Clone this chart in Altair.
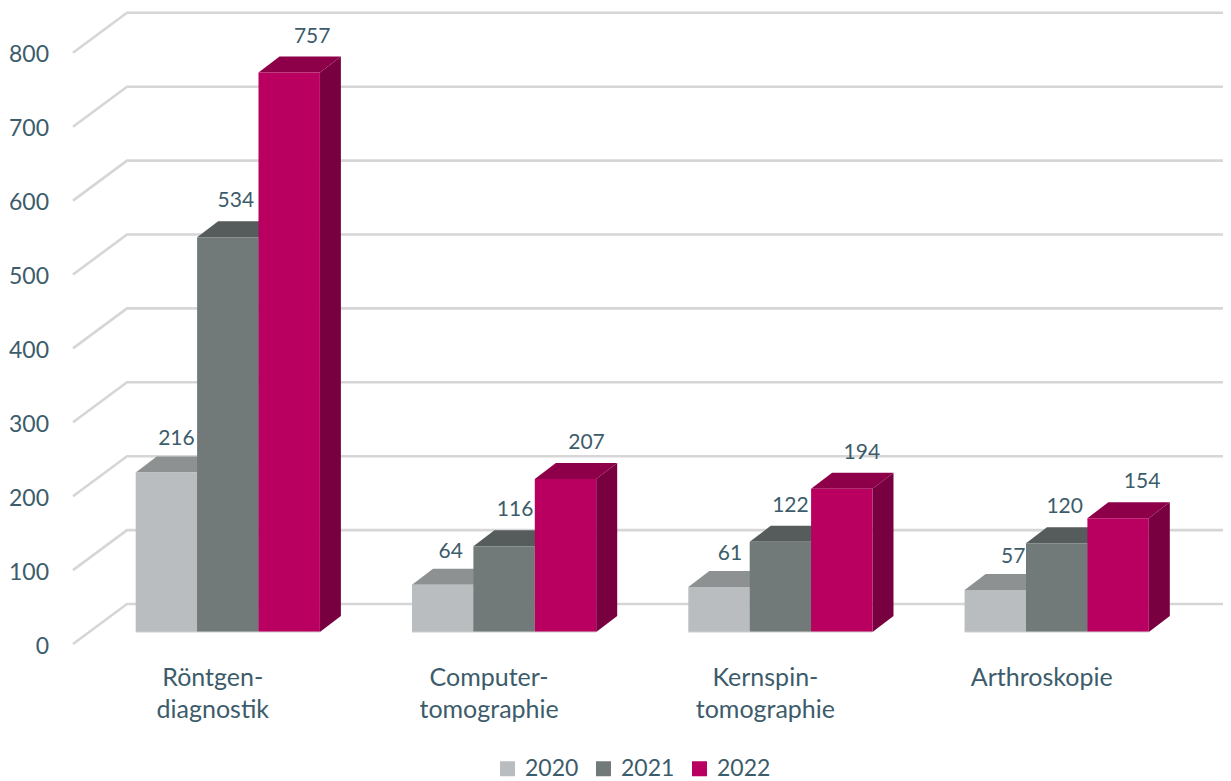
import altair as alt
import pandas as pd

categories = ["Röntgen-\ndiagnostik", "Computer-\ntomographie", "Kernspin-\ntomographie", "Arthroskopie"]
years = ["2020", "2021", "2022"]
v2020 = [216, 64, 61, 57]
v2021 = [534, 116, 122, 120]
v2022 = [757, 207, 194, 154]
ticks = [0, 100, 200, 300, 400, 500, 600, 700, 800]

front = {"2020": "#B9BDBF", "2021": "#727A79", "2022": "#B90060"}
top = {"2020": "#8E9192", "2021": "#565C5B", "2022": "#8D0049"}
side = {"2020": "#7F8384", "2021": "#4C5251", "2022": "#780040"}
TEXT = "#3D5C6B"
FONT = "Lato"

# Layout in data units (x: one bar width, y: the value axis)
W, H = 1215, 773
BAR_PX, UNIT_PX = 61.4, 0.739
STEP = 4.5
DX, DY = 21 / BAR_PX, 16 / UNIT_PX
x_scale = alt.Scale(domain=[(8 - 135.7) / BAR_PX, (1223 - 135.7) / BAR_PX], nice=False, zero=False)
y_scale = alt.Scale(domain=[(632 - 781) / UNIT_PX, (632 - 8) / UNIT_PX], nice=False, zero=False)
X = lambda f: alt.X(f, type="quantitative", scale=x_scale, axis=None)
Y = lambda f: alt.Y(f, type="quantitative", scale=y_scale, axis=None)
color = alt.Color(
    "year:N",
    scale=alt.Scale(domain=years, range=[front[y] for y in years]),
    legend=alt.Legend(
        title=None, orient="none", legendX=488, legendY=749, direction="horizontal",
        symbolType="square", symbolSize=225, symbolStrokeWidth=0, symbolOpacity=1,
        labelFont=FONT, labelFontSize=23, labelColor=TEXT, labelOffset=6,
        columnPadding=13, columns=3,
    ),
)

values = dict(zip(years, [v2020, v2021, v2022]))
layers = []

# Gridlines: floor-front edge -> back wall -> right edge
gx = [(73 - 135.7) / BAR_PX, (127 - 135.7) / BAR_PX, (1223 - 135.7) / BAR_PX]
gy = [(632 - 644) / UNIT_PX, (632 - 604) / UNIT_PX, (632 - 604) / UNIT_PX]
grid = pd.DataFrame([{"t": t, "o": i, "x": gx[i], "y": t + gy[i]} for t in ticks for i in range(3)])
layers.append(
    alt.Chart(grid).mark_line(color="#D6D6D6", strokeWidth=2.6, strokeJoin="miter")
    .encode(x=X("x"), y=Y("y"), detail="t:N", order="o:Q")
)

for si, yr in enumerate(years):
    vals = values[yr]
    base = [(c, STEP * c + si, vals[c]) for c in range(len(categories))]
    side_df = pd.DataFrame([
        r for c, x, v in base for r in (
            {"id": c, "x": x + 1, "y0": 0, "y1": v},
            {"id": c, "x": x + 1 + DX, "y0": DY, "y1": v + DY},
        )
    ])
    top_df = pd.DataFrame([
        r for c, x, v in base for r in (
            {"id": c, "y": v, "x0": x, "x1": x + 1},
            {"id": c, "y": v + DY, "x0": x + DX, "x1": x + 1 + DX},
        )
    ])
    front_df = pd.DataFrame([
        {"year": yr, "x0": x, "x1": x + 1, "y0": 0, "y1": v} for c, x, v in base
    ])
    layers.append(
        alt.Chart(side_df).mark_area(orient="vertical", color=side[yr])
        .encode(x=X("x"), y=Y("y0"), y2="y1:Q", detail="id:N")
    )
    layers.append(
        alt.Chart(top_df).mark_area(orient="horizontal", color=top[yr])
        .encode(y=Y("y"), x=X("x0"), x2="x1:Q", detail="id:N")
    )
    layers.append(
        alt.Chart(front_df).mark_rect()
        .encode(x=X("x0"), x2="x1:Q", y=Y("y0"), y2="y1:Q", color=color)
    )

# Base edge of each bar group
base_df = pd.DataFrame([
    {"id": c, "x": STEP * c + k, "y": 0} for c in range(len(categories)) for k in (0, 3)
])
layers.append(
    alt.Chart(base_df).mark_line(color="#CFCFCF", strokeWidth=1.2)
    .encode(x=X("x"), y=Y("y"), detail="id:N")
)

# Value labels
label_shift = {"2020": [10, 8, 11, 18], "2021": [8, 11, 10, 8], "2022": [23, 21, 20, 24]}
label_rise = {"2020": 17, "2021": 20, "2022": 20}
lab = pd.DataFrame([
    {"x": STEP * c + si + 0.5 + label_shift[yr][c] / BAR_PX,
     "y": values[yr][c] + DY + label_rise[yr] / UNIT_PX,
     "t": str(values[yr][c])}
    for si, yr in enumerate(years) for c in range(len(categories))
])
layers.append(
    alt.Chart(lab).mark_text(font=FONT, fontSize=21, color=TEXT, baseline="middle", align="center")
    .encode(x=X("x"), y=Y("y"), text="t:N")
)

# Value-axis labels, on the floor-front plane
tick_df = pd.DataFrame([
    {"x": (49 - 135.7) / BAR_PX, "y": t + (632 - 646.5) / UNIT_PX, "t": str(t)} for t in ticks
])
layers.append(
    alt.Chart(tick_df).mark_text(font=FONT, fontSize=23, color=TEXT, align="right", baseline="middle")
    .encode(x=X("x"), y=Y("y"), text="t:N")
)

# Category labels
cat_df = pd.DataFrame([
    {"x": STEP * c + 1.5 - 15 / BAR_PX, "y": (632 - 666) / UNIT_PX, "t": n}
    for c, n in enumerate(categories)
])
layers.append(
    alt.Chart(cat_df).mark_text(
        font=FONT, fontSize=25, color=TEXT, align="center", baseline="top",
        lineBreak="\n", lineHeight=32,
    ).encode(x=X("x"), y=Y("y"), text="t:N")
)

chart = (
    alt.layer(*layers)
    .properties(width=W, height=H, padding=0, autosize=alt.AutoSizeParams(type="none"),
                background="white")
    .configure_view(stroke=None)
)
chart.save("out.html", embed_options={"renderer": "svg", "actions": False})
